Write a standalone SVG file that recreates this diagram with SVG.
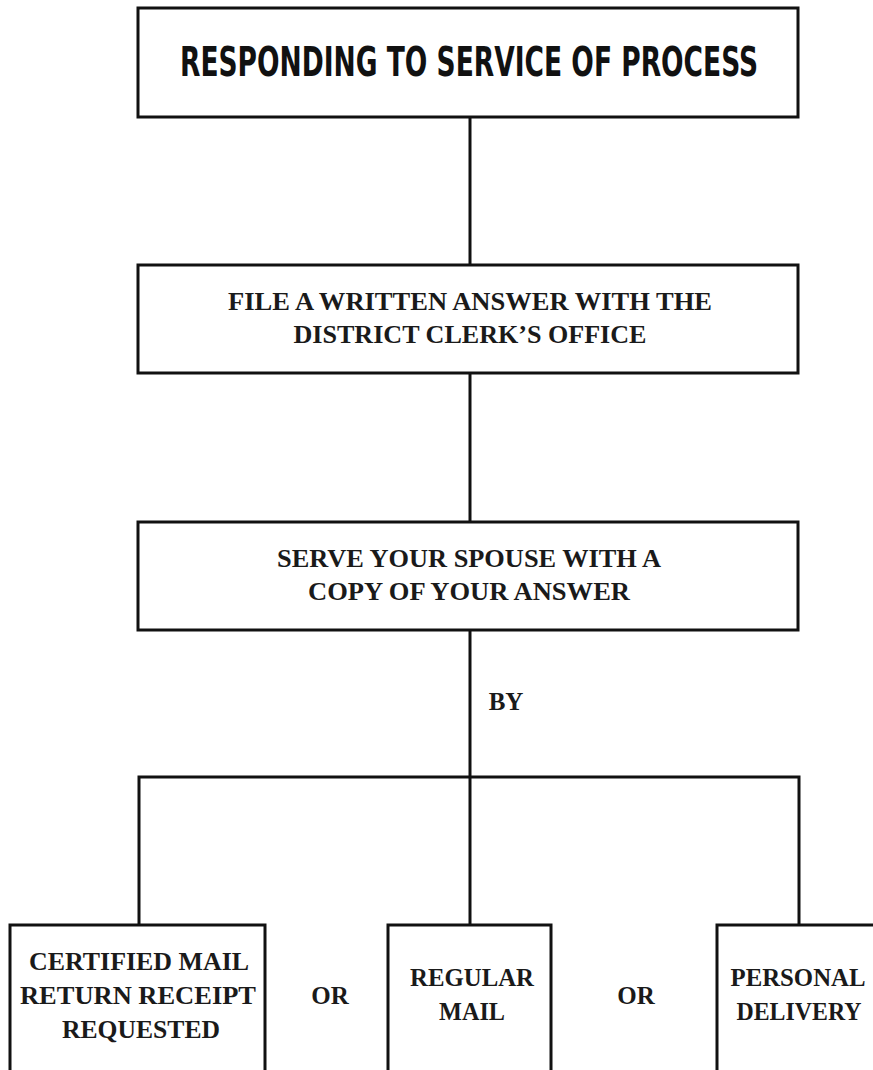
<svg xmlns="http://www.w3.org/2000/svg" width="873" height="1070" viewBox="0 0 873 1070">
<style>
.box{fill:#fff;stroke:#111;stroke-width:3}
.ln{stroke:#111;stroke-width:3;fill:none}
.t{font-family:"Liberation Serif","Times New Roman",serif;font-weight:bold;font-size:25px;fill:#1a1a1a;text-anchor:middle}
.title{font-family:"DejaVu Sans Condensed","DejaVu Sans",sans-serif;font-stretch:condensed;font-weight:bold;font-size:32px;fill:#111;text-anchor:middle}
</style>
<rect width="873" height="1070" fill="#fff"/>
<g id="connectors">
<line class="ln" x1="470" y1="117" x2="470" y2="265"/>
<line class="ln" x1="470" y1="373" x2="470" y2="522"/>
<line class="ln" x1="470" y1="630" x2="470" y2="777"/>
<polyline class="ln" points="139,925 139,777 799,777 799,925"/>
<line class="ln" x1="470" y1="777" x2="470" y2="925"/>
<text class="t" x="506" y="710">BY</text>
</g>
<g id="n-title">
<rect class="box" x="138" y="8" width="660" height="109"/>
<text class="title" transform="translate(469,76) scale(1,1.28)" x="0" y="0" textLength="578" lengthAdjust="spacingAndGlyphs">RESPONDING TO SERVICE OF PROCESS</text>
</g>
<g id="n-file">
<rect class="box" x="138" y="265" width="660" height="108"/>
<text class="t" x="470" y="310" textLength="484" lengthAdjust="spacingAndGlyphs">FILE A WRITTEN ANSWER WITH THE</text>
<text class="t" x="470" y="343" textLength="353" lengthAdjust="spacingAndGlyphs">DISTRICT CLERK’S OFFICE</text>
</g>
<g id="n-serve">
<rect class="box" x="138" y="522" width="660" height="108"/>
<text class="t" x="469" y="567" textLength="384" lengthAdjust="spacingAndGlyphs">SERVE YOUR SPOUSE WITH A</text>
<text class="t" x="469" y="600" textLength="322" lengthAdjust="spacingAndGlyphs">COPY OF YOUR ANSWER</text>
</g>
<g id="n-certified">
<rect class="box" x="10" y="925" width="255" height="160"/>
<text class="t" x="139" y="970" textLength="220" lengthAdjust="spacingAndGlyphs">CERTIFIED MAIL</text>
<text class="t" x="138" y="1004" textLength="236" lengthAdjust="spacingAndGlyphs">RETURN RECEIPT</text>
<text class="t" x="141" y="1038" textLength="158" lengthAdjust="spacingAndGlyphs">REQUESTED</text>
</g>
<g id="or1"><text class="t" x="330" y="1004">OR</text></g>
<g id="n-regular">
<rect class="box" x="388" y="925" width="163" height="160"/>
<text class="t" x="472" y="986" textLength="124" lengthAdjust="spacingAndGlyphs">REGULAR</text>
<text class="t" x="472" y="1020" textLength="66" lengthAdjust="spacingAndGlyphs">MAIL</text>
</g>
<g id="or2"><text class="t" x="636" y="1004">OR</text></g>
<g id="n-personal">
<rect class="box" x="717" y="925" width="170" height="160"/>
<text class="t" x="798" y="986" textLength="135" lengthAdjust="spacingAndGlyphs">PERSONAL</text>
<text class="t" x="799" y="1020" textLength="125" lengthAdjust="spacingAndGlyphs">DELIVERY</text>
</g>
</svg>
